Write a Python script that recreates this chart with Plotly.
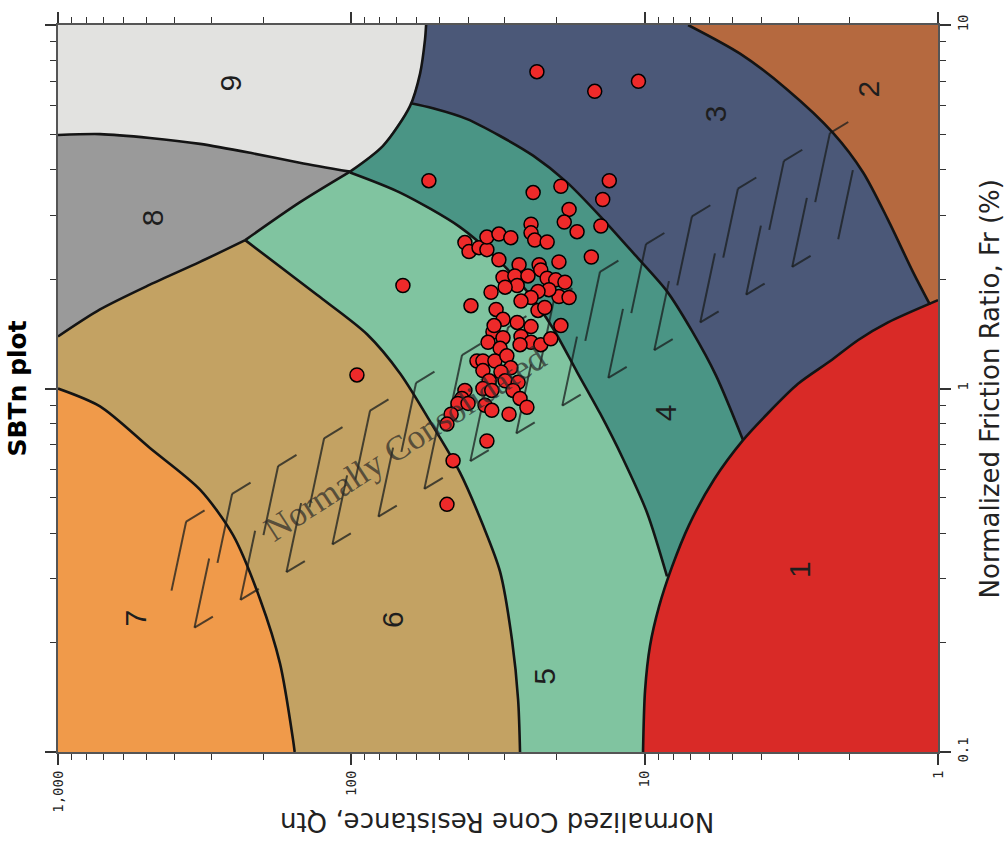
import math
import plotly.graph_objects as go

# ---------------- sample points (Qtn, Fr %) ----------------
qtn = [23.3, 14.8, 10.5, 54.4, 24.0, 19.3, 13.2, 13.9, 18.1, 18.8,
       17.0, 14.1, 24.4, 24.4, 23.7, 21.5, 15.2, 41.0, 39.7, 36.7,
       34.5, 34.5, 31.4, 28.6, 31.4, 19.6, 26.8, 22.9, 22.6, 30.4,
       27.7, 25.0, 27.2, 21.5, 20.1, 18.7, 19.6, 18.1, 21.2, 23.1,
       24.4, 26.4, 29.9, 33.4, 39.1, 32.1, 30.4, 27.2, 24.4, 23.1,
       21.9, 19.3, 66.7, 32.9, 32.6, 34.2, 30.4, 26.4, 24.4, 22.6,
       20.9, 26.6, 31.1, 37.3, 35.6, 32.4, 29.5, 35.6, 28.6, 30.9,
       33.9, 29.9, 27.0, 35.6, 33.2, 28.1, 41.0, 42.0, 43.3, 40.0,
       26.6, 25.2, 35.0, 33.2, 45.7, 47.2, 29.0, 34.5, 45.0, 47.2,
       95.7]
fr = [7.44, 6.57, 7.00, 3.73, 3.46, 3.60, 3.73, 3.31, 3.11, 2.87,
      2.70, 2.80, 2.83, 2.68, 2.56, 2.53, 2.30, 2.52, 2.38, 2.44,
      2.41, 2.61, 2.66, 2.60, 2.26, 2.23, 2.19, 2.19, 2.12, 2.02,
      2.04, 2.04, 1.92, 2.01, 1.99, 1.96, 1.79, 1.78, 1.87, 1.85,
      1.78, 1.74, 1.90, 1.84, 1.69, 1.65, 1.55, 1.52, 1.48, 1.64,
      1.67, 1.49, 1.92, 1.43, 1.49, 1.34, 1.38, 1.39, 1.34, 1.32,
      1.37, 1.32, 1.29, 1.19, 1.19, 1.19, 1.23, 1.12, 1.14, 1.11,
      1.05, 1.05, 1.04, 1.00, 0.988, 0.988, 0.988, 0.939, 0.910, 0.910,
      0.939, 0.888, 0.899, 0.871, 0.850, 0.798, 0.850, 0.717, 0.633, 0.480,
      1.09]

# ---------------- SBTn zone boundaries (Qtn, Fr %) ----------------
b9_low_q = [1000, 719, 486, 328, 221, 150, 101]
b9_low_f = [4.98, 5.01, 4.89, 4.71, 4.45, 4.18, 3.95]
b9_right_q = [101, 78, 63.1, 58.3, 56.1, 55.6]
b9_right_f = [3.95, 4.65, 5.98, 7.35, 9.10, 10]
b85_q = [101, 150, 230]
b85_f = [3.95, 3.25, 2.56]
b86_q = [230, 328, 486, 719, 1000]
b86_f = [2.56, 2.23, 1.93, 1.65, 1.39]
b76_q = [1000, 719, 486, 328, 253, 205, 175, 158, 156]
b76_f = [1.0, 0.893, 0.686, 0.527, 0.395, 0.264, 0.175, 0.108, 0.1]
b65_q = [230, 131, 88.4, 68.2, 52.7, 42.6, 35.6, 31.1, 28.3, 27.0, 26.6]
b65_f = [2.56, 1.81, 1.41, 1.10, 0.788, 0.587, 0.421, 0.313, 0.202, 0.139, 0.1]
b54_q = [101, 68.2, 42.6, 31.1, 24.6, 20.5, 17.0, 14.2, 11.9, 9.82, 8.39]
b54_f = [3.93, 3.46, 2.78, 2.23, 1.81, 1.46, 1.11, 0.855, 0.645, 0.456, 0.304]
b43_q = [62.7, 52.7, 40.3, 31.1, 24.0, 18.4, 14.2, 10.79, 8.39, 6.90, 5.71, 4.62]
b43_f = [6.09, 5.90, 5.51, 4.95, 4.37, 3.69, 2.98, 2.33, 1.85, 1.44, 1.085, 0.721]
b32_q = [7.11, 4.73, 3.27, 2.28, 1.80, 1.48, 1.22, 1.065]
b32_f = [10, 8.34, 6.65, 5.05, 3.93, 2.91, 2.10, 1.70]
b1_q = [1.0, 1.48, 1.87, 2.33, 3.00, 3.80, 4.62, 5.80, 7.06, 8.07, 8.93, 9.59, 9.97, 10.13]
b1_f = [1.75, 1.52, 1.36, 1.19, 1.03, 0.855, 0.721, 0.562, 0.421, 0.323, 0.2515, 0.1957, 0.1476, 0.1]

# normally consolidated band (centre line ends)
nc_q = [449, 2.0]
nc_f = [0.285, 3.98]

# zone labels
zone_names = ["1", "2", "3", "4", "5", "6", "7", "8", "9"]
zone_lq = [2.95, 1.73, 5.76, 8.52, 21.9, 72.7, 546, 478, 259]
zone_lf = [0.317, 6.65, 5.72, 0.855, 0.162, 0.232, 0.233, 2.94, 6.91]

zone_colors = {
    "1": "#d92a27", "2": "#b5693f", "3": "#4b5878", "4": "#4a9585",
    "5": "#80c4a0", "6": "#c3a263", "7": "#f09a4a", "8": "#9a9a9a",
    "9": "#e2e2e0",
}

fig = go.Figure()


def fill(q, f, color):
    fig.add_trace(go.Scatter(x=q, y=f, mode="lines", fill="toself",
                             fillcolor=color, line=dict(width=0, color=color),
                             hoverinfo="skip", showlegend=False))


fill([1000] + b32_q + [1, 1, 1000], [10] + b32_f + [1.75, 0.1, 0.1], zone_colors["3"])
fill([1000] + b43_q + [4.0, 1000], [10] + b43_f + [0.1, 0.1], zone_colors["4"])
fill([1000] + b54_q + [5.0, 1000], [10] + b54_f + [0.1, 0.1], zone_colors["5"])
fill([1000] + b65_q + [1000], [10] + b65_f + [0.1], zone_colors["6"])
fill(b76_q + [1000], b76_f + [0.1], zone_colors["7"])
fill(b1_q + [1], b1_f + [0.1], zone_colors["1"])
fill(b9_low_q + b85_q[1:] + b86_q[1:], b9_low_f + b85_f[1:] + b86_f[1:], zone_colors["8"])
fill([1000] + b9_right_q[::-1] + b9_low_q[::-1][1:],
     [10] + b9_right_f[::-1] + b9_low_f[::-1][1:], zone_colors["9"])

# hatch of the normally consolidated band
lq0, lq1 = math.log10(nc_q[0]), math.log10(nc_q[1])
lf0, lf1 = math.log10(nc_f[0]), math.log10(nc_f[1])
hx, hy = [], []
n = 30
dq = (lq1 - lq0) / n * 0.8
df = (lf1 - lf0) / n * 0.8
for i in range(n):
    t = (i + 0.5) / n
    cq = lq0 + (lq1 - lq0) * t
    cf = lf0 + (lf1 - lf0) * t
    if i % 2 == 0:
        b, tp = -0.03, 0.16
    else:
        b, tp = -0.17, 0.02
    hx += [10 ** cq, 10 ** (cq - 0.05), None]
    hy += [10 ** (cf + b), 10 ** (cf + tp), None]
    if i % 2 == 1 and i < n - 1:
        hx += [10 ** cq, 10 ** (cq + dq), None]
        hy += [10 ** (cf + b), 10 ** (cf + b + df), None]
    if i % 2 == 0 and i < n - 1:
        hx += [10 ** (cq - 0.05), 10 ** (cq - 0.05 + dq), None]
        hy += [10 ** (cf + tp), 10 ** (cf + tp + df), None]
fig.add_trace(go.Scatter(x=hx, y=hy, mode="lines",
                         line=dict(color="rgba(25,30,30,0.75)", width=2),
                         hoverinfo="skip", showlegend=False))

for q, f in [(b9_low_q, b9_low_f), (b9_right_q, b9_right_f), (b85_q, b85_f),
             (b86_q, b86_f), (b76_q, b76_f), (b65_q, b65_f), (b54_q, b54_f),
             (b43_q, b43_f), (b32_q, b32_f), (b1_q, b1_f)]:
    fig.add_trace(go.Scatter(x=q, y=f, mode="lines",
                             line=dict(color="#141414", width=2.6, shape="spline", smoothing=0.8),
                             hoverinfo="skip", showlegend=False))

fig.add_trace(go.Scatter(x=qtn, y=fr, mode="markers",
                         marker=dict(size=14, color="#ee2a2a",
                                     line=dict(color="#000000", width=1.5)),
                         showlegend=False))

annotations = []
for name, q, f in zip(zone_names, zone_lq, zone_lf):
    annotations.append(dict(x=math.log10(q), y=math.log10(f), xref="x", yref="y",
                            text=name, showarrow=False, textangle=-90,
                            font=dict(family="Liberation Sans", size=30, color="#1e1e1e")))
annotations.append(dict(x=math.log10(65.6), y=math.log10(0.708), xref="x", yref="y",
                        text="Normally Consolidated", showarrow=False, textangle=-33,
                        font=dict(family="Liberation Serif", size=35, color="rgba(40,40,40,0.7)")))
annotations.append(dict(x=-0.0455, y=0.5, xref="paper", yref="paper",
                        xanchor="center", yanchor="middle",
                        text="<b>SBTn plot</b>", showarrow=False, textangle=-90,
                        font=dict(family="DejaVu Sans", size=25, color="#000")))
annotations.append(dict(x=1.059, y=0.5, xref="paper", yref="paper",
                        xanchor="center", yanchor="middle",
                        text="Normalized Friction Ratio, Fr (%)", showarrow=False, textangle=-90,
                        font=dict(family="DejaVu Sans", size=26, color="#222")))
annotations.append(dict(x=0.499, y=-0.0954, xref="paper", yref="paper",
                        xanchor="center", yanchor="middle",
                        text="Normalized Cone Resistance, Qtn", showarrow=False, textangle=180,
                        font=dict(family="DejaVu Sans", size=26, color="#222")))

x_minor = [m * d for d in (1, 10, 100) for m in range(2, 10)]
y_minor = [m * d for d in (0.1, 1) for m in range(2, 10)]

axis_common = dict(type="log", showgrid=False, zeroline=False, showline=True,
                   linecolor="#555", linewidth=2, mirror="ticks", ticks="outside",
                   ticklen=11, tickwidth=1.5, tickcolor="#333",
                   tickfont=dict(family="DejaVu Sans Mono", size=14, color="#222"))

fig.update_layout(
    width=1008, height=867,
    margin=dict(l=58, r=70, t=18, b=115),
    paper_bgcolor="white",
    plot_bgcolor=zone_colors["2"],
    showlegend=False,
    xaxis=dict(range=[3, 0], tickmode="array", tickvals=[1000, 100, 10, 1],
               ticktext=["1,000", "100", "10", "1"], tickangle=-90,
               minor=dict(tickmode="array", tickvals=x_minor, ticks="outside",
                          ticklen=6, tickwidth=1.2, tickcolor="#333", showgrid=False),
               **axis_common),
    yaxis=dict(range=[-1, 1], side="right", tickmode="array", tickvals=[0.1, 1, 10],
               ticktext=["0.1", "1", "10"], tickangle=-90,
               minor=dict(tickmode="array", tickvals=y_minor, ticks="outside",
                          ticklen=6, tickwidth=1.2, tickcolor="#333", showgrid=False),
               **axis_common),
    annotations=annotations,
)

fig.write_html("out.html")
